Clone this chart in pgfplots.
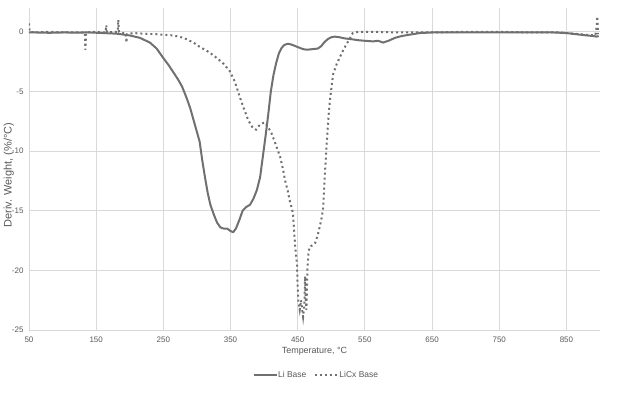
\documentclass[border=0pt]{standalone}
\usepackage{fontspec}
\setmainfont{Liberation Sans}
\usepackage{pgfplots}
\pgfplotsset{compat=1.18}
\definecolor{lineg}{RGB}{112,112,112}
\definecolor{gridg}{RGB}{217,217,217}
\definecolor{textg}{RGB}{89,89,89}
\begin{document}
\begin{tikzpicture}
\useasboundingbox (-29bp,-63bp) rectangle (607bp,330bp);
\begin{axis}[
  at={(0,0)}, anchor=south west,
  scale only axis, width=571bp, height=322bp,
  xmin=50, xmax=900, ymin=-25, ymax=2,
  xtick={50,150,...,850}, ytick={-25,-20,...,0},
  grid=major, major grid style={gridg, line width=0.8bp},
  axis line style={draw=none},
  major tick length=0pt,
  /pgf/number format/assume math mode=true,
  ticklabel style={font=\fontsize{8}{9}\selectfont, text=textg},
  xticklabel style={yshift=-3bp},
  yticklabel style={xshift=-2bp},
  xlabel={Temperature, °C},
  ylabel={Deriv. Weight, (\%/°C)},
  label style={text=textg},
  xlabel style={font=\fontsize{9}{10}\selectfont, at={(0.5,0)}, anchor=north, yshift=-14bp},
  ylabel style={font=\fontsize{11}{12}\selectfont, at={(0,0.5)}, anchor=south, yshift=14bp, xshift=-6bp, inner sep=1bp},
  legend columns=2,
  legend style={at={(0.5,0)}, anchor=center, yshift=-45bp, xshift=2bp, draw=none, fill=none,
    font=\fontsize{8.5}{10}\selectfont, text=textg,
    /tikz/every even column/.append style={column sep=6bp},
    /tikz/every odd column/.append style={column sep=-1.5bp}},
  legend image code/.code={\draw[#1] (0cm,0cm) -- (0.8cm,0cm);},
]
\addplot[lineg, line width=2bp, line join=round] coordinates {
(50,-0.05) (60,-0.05) (80,-0.08) (100,-0.05) (120,-0.06) (140,-0.05) (160,-0.1) (180,-0.15)
(200,-0.3) (215,-0.5) (230,-0.9) (240,-1.4) (250,-2.2) (258,-2.8) (265,-3.4) (272,-4.0)
(278,-4.6) (285,-5.6) (290,-6.4) (294,-7.2) (299,-8.2) (304,-9.2) (308,-10.8) (312,-12.2)
(316,-13.5) (320,-14.5) (325,-15.3) (330,-16.0) (335,-16.4) (340,-16.5) (345,-16.5)
(350,-16.7) (354,-16.8) (358,-16.5) (363,-15.8) (368,-15.0) (373,-14.7) (379,-14.5)
(384,-14.0) (389,-13.3) (394,-12.2) (398,-10.5) (402,-8.8) (406,-7.0) (410,-5.0)
(414,-3.6) (418,-2.6) (422,-1.8) (426,-1.35) (430,-1.1) (435,-1.0) (440,-1.05)
(449,-1.25) (458,-1.45) (464,-1.5) (472,-1.45) (480,-1.4) (485,-1.2) (490,-0.85)
(495,-0.6) (500,-0.45) (505,-0.4) (512,-0.45) (520,-0.55) (528,-0.6) (540,-0.7)
(550,-0.75) (562,-0.8) (570,-0.75) (577,-0.9) (585,-0.75) (595,-0.5) (605,-0.35)
(615,-0.25) (632,-0.1) (650,-0.05) (700,-0.05) (750,-0.05) (800,-0.05) (830,-0.05)
(850,-0.1) (865,-0.2) (880,-0.3) (890,-0.35) (895,-0.4) (898,-0.35)
};
\addlegendentry{Li Base}
\addplot[lineg, line width=2bp, dash pattern=on 2bp off 3bp] coordinates {
(50,0.7) (51,0.0) (60,-0.05) (80,0.0) (100,-0.05) (120,-0.05) (133,-0.05) (134,-1.5)
(135,-0.05) (150,0.0) (164,-0.05) (165,0.55) (166,-0.05) (175,0.0) (182,0.0) (183,1.0)
(184,0.0) (190,-0.1) (194,-0.1) (195,-0.9) (196,-0.2) (205,-0.1) (220,-0.15) (240,-0.2)
(265,-0.3) (280,-0.5) (295,-0.9) (304,-1.25) (315,-1.6) (324,-1.95) (332,-2.3)
(340,-2.7) (349,-3.3) (355,-4.0) (359,-4.6) (364,-5.5) (369,-6.3) (375,-7.2) (380,-7.8)
(384,-8.1) (388,-8.2) (392,-7.9) (396,-7.7) (401,-7.6) (406,-8.0) (411,-8.5) (417,-9.4)
(424,-10.5) (428,-11.5) (431,-12.4) (435,-13.3) (438,-14.1) (443,-15.2) (445,-17)
(447,-18.5) (449,-19.5) (450,-21.5) (451,-22.6) (453,-23.3) (455,-22.5) (457,-23.5)
(458,-23.9) (460,-22.8) (461,-20.5) (462,-22.5) (463,-23.3) (464,-21) (464.5,-19.9)
(466,-18.5) (468,-18.0) (472,-17.9) (476,-17.7) (480,-17.0) (483,-16.3) (486,-15.5)
(488,-14.7) (490,-12.4) (493,-9.5) (496,-7.0) (498,-5.75) (501,-4.3) (503,-3.5)
(508,-2.7) (513,-2.1) (518,-1.5) (523,-1.0) (528,-0.5) (532,-0.1) (540,0.0) (547,0.0)
(560,0.0) (600,-0.05) (650,-0.05) (700,0.0) (750,0.0) (800,-0.05) (840,-0.05)
(860,-0.15) (880,-0.25) (893,-0.3) (895,0.4) (896,1.3) (897,-0.2)
};
\addlegendentry{LiCx Base}
\end{axis}
\end{tikzpicture}
\end{document}
